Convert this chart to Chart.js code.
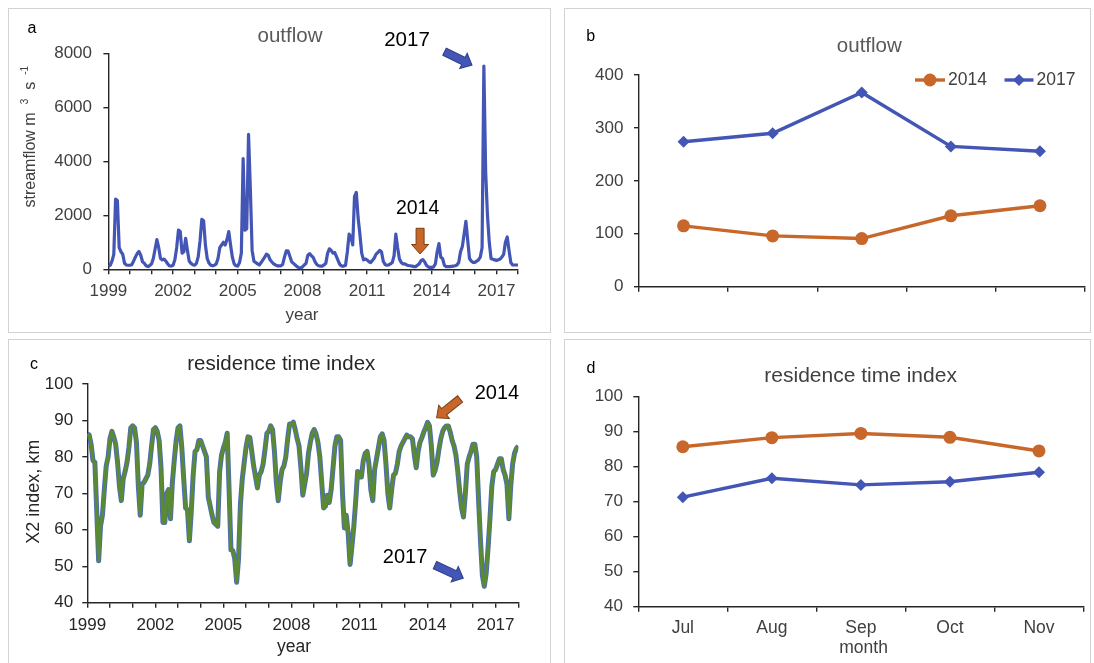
<!DOCTYPE html>
<html>
<head>
<meta charset="utf-8">
<script src="https://cdn.jsdelivr.net/npm/chart.js@4/dist/chart.umd.min.js"></script>
<style>
  html, body { margin: 0; padding: 0; background: #fff; }
  body { width: 1094px; height: 663px; position: relative; overflow: hidden; }
  canvas { position: absolute; }
  .frame { position: absolute; border: 1px solid #d3d3d3; box-sizing: border-box; }
</style>
</head>
<body>
<canvas id="chart-a"></canvas>
<canvas id="chart-b"></canvas>
<canvas id="chart-c"></canvas>
<canvas id="chart-d"></canvas>
<div class="frame" style="left:8px;top:8px;width:543px;height:325px"></div>
<div class="frame" style="left:564px;top:8px;width:527px;height:325px"></div>
<div class="frame" style="left:8px;top:339px;width:543px;height:340px"></div>
<div class="frame" style="left:564px;top:339px;width:527px;height:340px"></div>
<script>
// monthly series, month 0 sits on the first year tick
var firstYear = 1999;
var outflowMonthly = [
  120, 150, 300, 550, 2600, 2550, 800, 650, 550, 220, 160, 150,
  150, 170, 300, 450, 580, 660, 520, 280, 220, 130, 100, 140,
  200, 400, 750, 1100, 800, 400, 350, 380, 300, 200, 130, 120,
  150, 350, 800, 1450, 1400, 600, 650, 1150, 700, 300, 220, 170,
  150, 220, 470, 1050, 1850, 1800, 900, 400, 230, 150, 130, 150,
  200, 400, 800, 900, 1000, 900, 1100, 1400, 900, 450, 200, 130,
  120, 250, 600, 4100, 1450, 1500, 5000, 3000, 700, 300, 250, 200,
  160, 250, 350, 450, 560, 520, 350, 270, 200, 160, 130, 130,
  130, 180, 450, 680, 680, 480, 280, 220, 160, 100, 60, 40,
  90, 160, 220, 520, 580, 500, 440, 280, 180, 130, 120, 120,
  160, 220, 590, 760, 700, 600, 620, 460, 300, 160, 120, 120,
  150, 650, 1300, 1200, 900, 2700, 2850, 1900, 1300, 600, 350, 380,
  350, 280, 250, 330, 420, 560, 620, 700, 650, 300, 180, 150,
  160, 200, 250, 500, 1300, 800, 380, 250, 200, 200, 160, 140,
  130, 120, 100, 100, 150, 200, 320, 360, 280, 150, 90, 70,
  70, 90, 200, 650, 950, 450, 400, 150, 100, 100, 100, 110,
  120, 130, 160, 250, 650, 840, 1300, 1780, 1080, 400, 300, 260,
  260, 300, 350, 450, 800, 7530, 3600, 2000, 1000, 400, 370, 350,
  330, 350, 380, 450, 550, 1000, 1200, 700, 250, 160, 160, 160,
  160
];
var x2Monthly = [
  86.3, 86, 83.5, 79, 78.5, 65, 51.5, 61, 64, 71, 77.5, 80,
  85, 87, 85.5, 83.5, 78.5, 72, 68, 74, 76, 78.5, 82.5, 88,
  88.5, 88, 84, 72, 64, 72.5, 73, 74, 75, 78, 83, 87.5,
  88, 87, 84.5, 77, 62, 62, 70, 71, 63, 73, 79, 84.5,
  88, 88.5, 82.5, 74, 66, 65.5, 57, 65, 75, 81.5, 82, 84.5,
  84.5, 83, 81.5, 80, 69, 66.5, 64, 62, 61.5, 61, 76, 80.5,
  82.5, 84, 86.5, 71, 54.5, 54.3, 52, 45.6, 52, 67, 74, 78.5,
  82.7, 85.5, 85.3, 81.5, 77.5, 74.5, 71.5, 75, 76, 78, 82, 86.5,
  87, 88.5, 87.5, 81.5, 73, 68, 73, 76.5, 77.5, 80, 85, 89,
  89, 89.5, 87.5, 85, 83, 77, 69.5, 72.5, 75.5, 81, 84, 86.5,
  87.5, 86.3, 84, 80, 73, 66, 66.5, 69.5, 67.5, 71, 77, 83,
  85.5, 85.5, 84.5, 70, 60.5, 64, 59, 50.5, 55.5, 61, 68, 76,
  74.5, 74.5, 79, 81, 81.5, 78, 71, 68, 76.5, 79.5, 82.5, 85.5,
  86.3, 84.5, 78, 70, 66, 71, 75, 75.5, 78, 81.5, 83, 84,
  85, 86, 85.5, 85.5, 85, 80.5, 77, 81.5, 84, 85.3, 86.8, 88,
  89.5, 88.5, 83, 75, 76.3, 78.5, 82, 85, 87, 88, 88.5, 88.5,
  86.8, 84.5, 83, 80.5, 76, 70.5, 66, 63.5, 70, 78, 80, 81.5,
  83.5, 83.5, 80, 68, 57, 47.5, 44.5, 48, 55, 63, 72, 76,
  76.5, 78, 79.5, 79.5, 76.5, 75, 72.5, 63, 72, 78, 81, 82.3,
  83
];
var monthNames = ['Jul', 'Aug', 'Sep', 'Oct', 'Nov'];
var outflow2014 = [115, 96, 91, 134, 153];
var outflow2017 = [274, 290, 367, 265, 256];
var x2In2014 = [85.7, 88.3, 89.5, 88.4, 84.5];
var x2In2017 = [71.3, 76.7, 74.8, 75.7, 78.4];

var FONT = "'Liberation Sans', Arial, Helvetica, sans-serif";
var BLUE = '#4355b5', ORANGE = '#c8672a', GREEN = '#5a8a32', EDGE = '#4e6cb8';
var AXIS = '#262626';

Chart.defaults.font.family = FONT;
Chart.defaults.animation = false;
Chart.defaults.plugins.legend.display = false;
Chart.defaults.plugins.tooltip.enabled = false;

// box = frame x, y, w, h ; area = plot left, top, right, bottom (page px)
var panels = {
  a: { box: [8, 8, 543, 325], area: [108.4, 53.3, 518, 269.3] },
  b: { box: [564, 8, 527, 325], area: [639, 75, 1087.2, 286.7] },
  c: { box: [8, 339, 543, 330], area: [87.3, 384, 518.3, 602.7] },
  d: { box: [564, 339, 527, 330], area: [638.3, 396.7, 1083.5, 606.7] }
};

function blockArrow(ctx, a, b, fill, edge) {
  var dx = b[0] - a[0], dy = b[1] - a[1];
  var len = Math.sqrt(dx * dx + dy * dy);
  var shaft = 4, head = 8.5, headLen = 9.5;
  ctx.save();
  ctx.translate(a[0], a[1]);
  ctx.rotate(Math.atan2(dy, dx));
  ctx.beginPath();
  ctx.moveTo(0, -shaft);
  ctx.lineTo(len - headLen, -shaft);
  ctx.lineTo(len - headLen, -head);
  ctx.lineTo(len, 0);
  ctx.lineTo(len - headLen, head);
  ctx.lineTo(len - headLen, shaft);
  ctx.lineTo(0, shaft);
  ctx.closePath();
  ctx.fillStyle = fill;
  ctx.fill();
  ctx.lineWidth = 1;
  ctx.strokeStyle = edge;
  ctx.stroke();
  ctx.restore();
}

function drawMarker(ctx, style, x, y, r, color) {
  ctx.fillStyle = color;
  ctx.beginPath();
  if (style === 'circle') {
    ctx.arc(x, y, r, 0, Math.PI * 2);
  } else {
    ctx.moveTo(x - r, y); ctx.lineTo(x, y - r); ctx.lineTo(x + r, y); ctx.lineTo(x, y + r);
    ctx.closePath();
  }
  ctx.fill();
}

// text, titles, legend and callouts drawn on top of each chart
var decorations = {
  id: 'decorations',
  afterDraw: function(chart, args, o) {
    var ctx = chart.ctx;
    ctx.save();
    ctx.translate(-o.origin[0], -o.origin[1]);
    (o.texts || []).forEach(function(t) {
      ctx.save();
      ctx.fillStyle = t.color || '#000';
      ctx.textBaseline = 'middle';
      ctx.translate(t.x, t.y);
      if (t.rotate) ctx.rotate(-Math.PI / 2);
      if (t.parts) {
        var total = 0;
        t.parts.forEach(function(p) {
          ctx.font = p.size + 'px ' + FONT;
          p.w = (p.gap || 0) + (p.t ? ctx.measureText(p.t).width : 0);
          total += p.w;
        });
        var cx = -total / 2;
        ctx.textAlign = 'left';
        t.parts.forEach(function(p) {
          ctx.font = p.size + 'px ' + FONT;
          if (p.t) ctx.fillText(p.t, cx + (p.gap || 0), -(p.up || 0));
          cx += p.w;
        });
      } else {
        ctx.font = t.size + 'px ' + FONT;
        ctx.textAlign = 'center';
        ctx.fillText(t.text, 0, 0);
      }
      ctx.restore();
    });
    if (o.legend) {
      var lg = o.legend;
      chart.data.datasets.forEach(function(ds, i) {
        var e = lg.entries[i];
        ctx.strokeStyle = ds.borderColor;
        ctx.lineWidth = ds.borderWidth;
        ctx.beginPath();
        ctx.moveTo(e.x, lg.y);
        ctx.lineTo(e.x + e.w, lg.y);
        ctx.stroke();
        drawMarker(ctx, ds.pointStyle, e.x + e.w / 2, lg.y, ds.pointRadius, ds.borderColor);
        ctx.font = lg.size + 'px ' + FONT;
        ctx.fillStyle = lg.color;
        ctx.textAlign = 'left';
        ctx.textBaseline = 'middle';
        ctx.fillText(ds.label, e.x + e.w + 3, lg.y);
      });
    }
    ctx.restore();

    // callouts placed in data units
    var xs = chart.scales.x, ys = chart.scales.y;
    function px(p) { return [xs.getPixelForValue(p[0]), ys.getPixelForValue(p[1])]; }
    (o.callouts || []).forEach(function(c) {
      if (c.arrow) {
        blockArrow(ctx, px(c.from), px(c.to), c.fill, c.edge);
      } else {
        var q = px(c.at);
        ctx.save();
        ctx.font = c.size + 'px ' + FONT;
        ctx.fillStyle = '#000';
        ctx.textAlign = 'center';
        ctx.textBaseline = 'middle';
        ctx.fillText(c.text, q[0], q[1]);
        ctx.restore();
      }
    });
  }
};

function axis(opts) {
  return {
    type: opts.type,
    min: opts.min,
    max: opts.max,
    offset: !!opts.offset,
    border: { display: true, color: AXIS, width: 1.4 },
    grid: { display: true, offset: !!opts.offset, drawOnChartArea: false, drawTicks: true,
            tickLength: 5, color: AXIS, lineWidth: 1.4 },
    ticks: {
      display: opts.showTicks !== false,
      color: opts.color,
      font: { size: opts.size || 17 },
      padding: opts.pad,
      stepSize: opts.step,
      autoSkip: false,
      maxRotation: 0,
      callback: opts.callback
    }
  };
}

function yearLabel(v) { return v % 36 === 0 ? String(firstYear + v / 12) : ''; }
function plain(v) { return String(v); }
function catLabel(v) { return this.getLabelForValue(v); }

function buildChart(key, data, xAxis, yAxis, deco) {
  var p = panels[key];
  var cv = document.getElementById('chart-' + key);
  cv.width = p.box[2];
  cv.height = p.box[3];
  cv.style.left = p.box[0] + 'px';
  cv.style.top = p.box[1] + 'px';
  xAxis.afterFit = function(s) { s.height = p.box[1] + p.box[3] - p.area[3]; };
  yAxis.afterFit = function(s) { s.width = p.area[0] - p.box[0]; };
  deco.origin = [p.box[0], p.box[1]];
  return new Chart(cv.getContext('2d'), {
    type: 'line',
    data: data,
    options: {
      responsive: false,
      devicePixelRatio: 1,
      layout: { padding: { left: 0, bottom: 0, top: p.area[1] - p.box[1],
                           right: p.box[0] + p.box[2] - p.area[2] } },
      scales: { x: xAxis, y: yAxis },
      plugins: { decorations: deco }
    },
    plugins: [decorations]
  });
}

var monthIndex = outflowMonthly.map(function(v, i) { return i; });

// a: monthly outflow
buildChart('a',
  { labels: monthIndex,
    datasets: [{ data: outflowMonthly, borderColor: BLUE, borderWidth: 3.2, pointRadius: 0,
                 tension: 0, borderJoinStyle: 'round' }] },
  axis({ type: 'linear', min: 0, max: 228, step: 12, color: '#404040', pad: 7.2, callback: yearLabel }),
  axis({ type: 'linear', min: 0, max: 8000, step: 2000, color: '#404040', pad: 11.4, callback: plain }),
  { texts: [
      { text: 'a', x: 32, y: 28.3, size: 16 },
      { text: 'outflow', x: 290, y: 36.7, size: 20.5, color: '#595959' },
      { text: 'year', x: 302, y: 315, size: 17, color: '#404040' },
      { rotate: true, x: 30.4, y: 136.7, color: '#404040', parts: [
          { t: 'streamflow m', size: 16 },
          { t: '3', size: 10, up: 5, gap: 8 },
          { t: 's', size: 16, gap: 9 },
          { t: '-1', size: 10, up: 5, gap: 7 } ] }
    ],
    callouts: [
      { text: '2017', at: [166.2, 8467], size: 20.5 },
      { arrow: true, from: [187.1, 8059], to: [202.4, 7563], fill: BLUE, edge: '#2e3c8a' },
      { text: '2014', at: [172.1, 2252], size: 19.5 },
      { arrow: true, from: [173.5, 1519], to: [173.5, 567], fill: ORANGE, edge: '#7d3d10' }
    ] });

// b: Jul-Nov outflow for the two years
buildChart('b',
  { labels: monthNames,
    datasets: [
      { label: '2014', data: outflow2014, borderColor: ORANGE, backgroundColor: ORANGE, borderWidth: 3.4,
        pointStyle: 'circle', pointRadius: 6.5, pointBorderWidth: 0, tension: 0 },
      { label: '2017', data: outflow2017, borderColor: BLUE, backgroundColor: BLUE, borderWidth: 3.4,
        pointStyle: 'rectRot', pointRadius: 6, pointBorderWidth: 0, tension: 0 }
    ] },
  axis({ type: 'category', offset: true, showTicks: false, color: '#404040', pad: 6 }),
  axis({ type: 'linear', min: 0, max: 400, step: 100, color: '#404040', pad: 10.6, callback: plain }),
  { texts: [
      { text: 'b', x: 590.7, y: 36.7, size: 16 },
      { text: 'outflow', x: 869.3, y: 46.7, size: 20.5, color: '#595959' }
    ],
    legend: { y: 80, size: 17.5, color: '#404040',
              entries: [{ x: 915, w: 30 }, { x: 1004.5, w: 29 }] } });

// c: monthly X2 position, green line with a thin blue edge
buildChart('c',
  { labels: monthIndex,
    datasets: [
      { data: x2Monthly, borderColor: GREEN, borderWidth: 3.2, pointRadius: 0, tension: 0, borderJoinStyle: 'round' },
      { data: x2Monthly, borderColor: EDGE, borderWidth: 5, pointRadius: 0, tension: 0, borderJoinStyle: 'round' }
    ] },
  axis({ type: 'linear', min: 0, max: 228, step: 12, color: '#262626', pad: 7.1, callback: yearLabel }),
  axis({ type: 'linear', min: 40, max: 100, step: 10, color: '#262626', pad: 9.1, callback: plain }),
  { texts: [
      { text: 'c', x: 34, y: 364.3, size: 16 },
      { text: 'residence time index', x: 281.3, y: 364.3, size: 20.5, color: '#262626' },
      { text: 'year', x: 294, y: 646.7, size: 17.5, color: '#262626' },
      { text: 'X2 index, km', rotate: true, x: 34, y: 491.7, size: 18, color: '#262626' }
    ],
    callouts: [
      { text: '2014', at: [216.7, 97.3], size: 20 },
      { arrow: true, from: [197.2, 95.9], to: [184.8, 90.75], fill: ORANGE, edge: '#7d3d10' },
      { text: '2017', at: [168.1, 52.3], size: 20 },
      { arrow: true, from: [183.9, 50.3], to: [198.9, 46.7], fill: BLUE, edge: '#2e3c8a' }
    ] });

// d: Jul-Nov X2 for the two years
buildChart('d',
  { labels: monthNames,
    datasets: [
      { label: '2014', data: x2In2014, borderColor: ORANGE, backgroundColor: ORANGE, borderWidth: 3.4,
        pointStyle: 'circle', pointRadius: 6.5, pointBorderWidth: 0, tension: 0 },
      { label: '2017', data: x2In2017, borderColor: BLUE, backgroundColor: BLUE, borderWidth: 3.4,
        pointStyle: 'rectRot', pointRadius: 6, pointBorderWidth: 0, tension: 0 }
    ] },
  axis({ type: 'category', offset: true, color: '#404040', pad: 6.4, size: 17.5, callback: catLabel }),
  axis({ type: 'linear', min: 40, max: 100, step: 10, color: '#404040', pad: 10.3, callback: plain }),
  { texts: [
      { text: 'd', x: 591, y: 368.3, size: 16 },
      { text: 'residence time index', x: 860.6, y: 376.7, size: 21, color: '#404040' },
      { text: 'month', x: 863.6, y: 648.3, size: 17.5, color: '#404040' }
    ] });
</script>
</body>
</html>
